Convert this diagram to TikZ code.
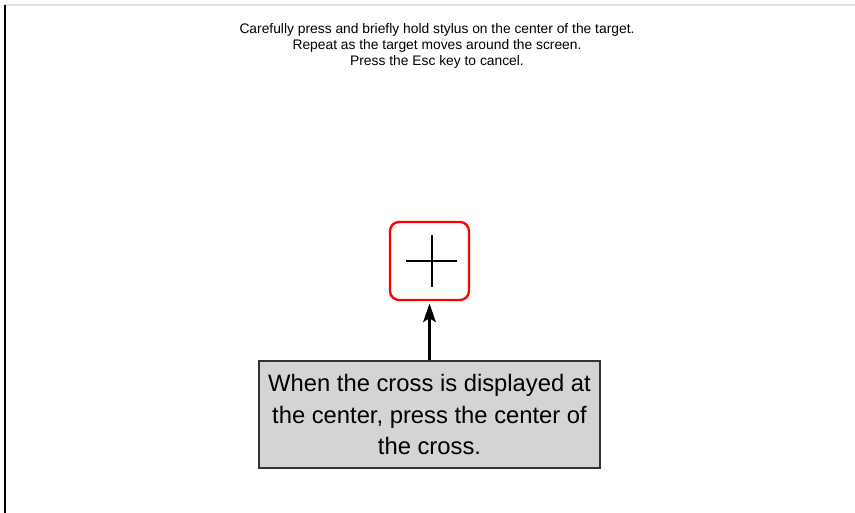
\documentclass[tikz,border=0pt]{standalone}
\usepackage{fontspec}
\setmainfont{Liberation Sans}
\usetikzlibrary{arrows.meta}

\begin{document}
\begin{tikzpicture}[
    x=0.03cm, y=-0.03cm,
    prompt/.style={font=\fontsize{11.8}{13.6}\selectfont, align=center, inner sep=0pt},
    target/.style={draw=red, line width=2pt, rounded corners=0.27cm, minimum width=2.37cm, minimum height=2.34cm, inner sep=0pt},
    hair/.style={line width=1.5pt},
    callout/.style={draw=black!80, line width=1.7pt, fill=black!17, minimum width=10.23cm, minimum height=3.21cm,
      align=center, inner sep=0pt, font=\fontsize{20.3}{27}\selectfont},
    pointer/.style={line width=2.2pt, -{Stealth[length=0.56cm, width=0.38cm, inset=0.12cm]}}
]
  \useasboundingbox (0,0) rectangle (855,513);
  % Screen edges.
  \draw[black!12, line width=1pt] (5,5) -- (855,5);
  \draw[line width=1.6pt] (5,5) -- (5,513);
  \node[prompt] (hint) at (437,45.5)
    {Carefully press and briefly hold stylus on the center of the target.\\
     Repeat as the target moves around the screen.\\
     Press the Esc key to cancel.};
  % Calibration target with its cross hair.
  \node[target] (tgt) at (429.5,261) {};
  \coordinate (hl) at (406,261);
  \coordinate (hr) at (457,261);
  \coordinate (vt) at (432,235);
  \coordinate (vb) at (432,287);
  \draw[hair] (hl) -- (hr);
  \draw[hair] (vt) -- (vb);
  \node[callout] (note) at (429.5,414.5)
    {When the cross is displayed at\\ the center, press the center of\\ the cross.};
  \draw[pointer] (note.north) -- ([yshift=-2pt]tgt.south);
\end{tikzpicture}
\end{document}
